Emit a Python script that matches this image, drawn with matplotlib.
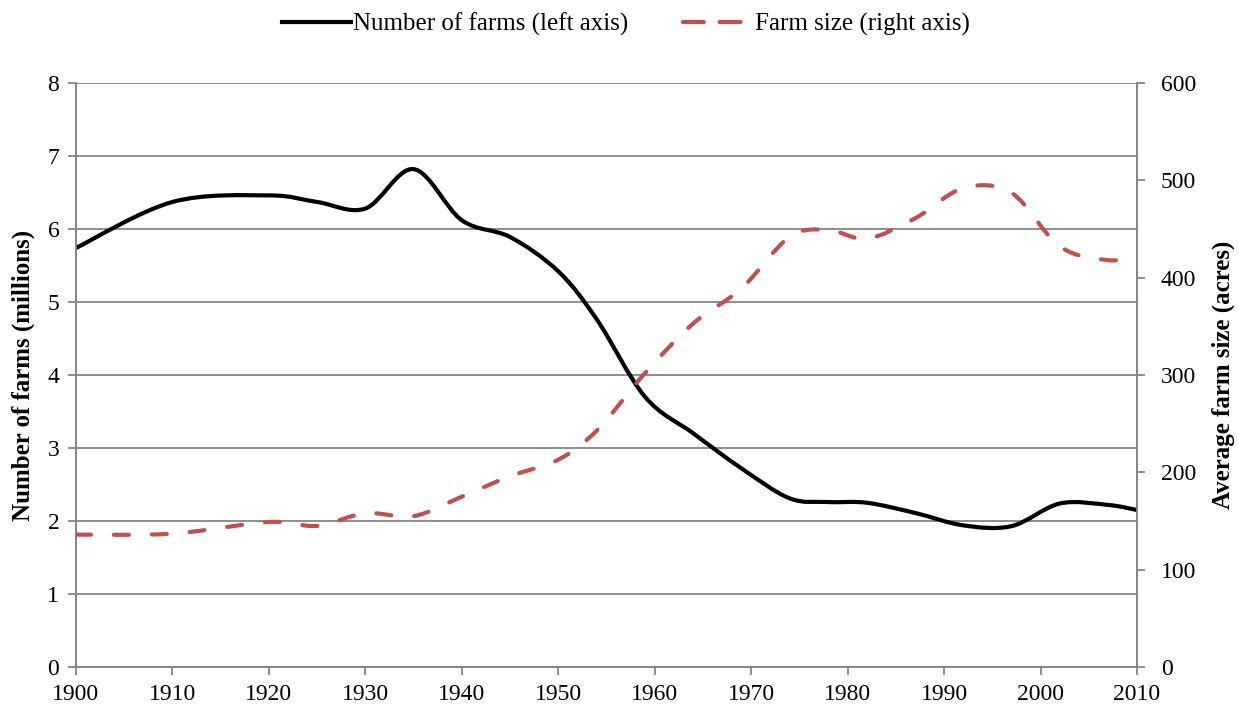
import numpy as np
import matplotlib.pyplot as plt
from matplotlib.path import Path
from matplotlib.patches import PathPatch
from matplotlib.lines import Line2D

plt.rcParams['font.family'] = ['Liberation Serif', 'DejaVu Serif']

years = [1900, 1910, 1920, 1925, 1930, 1935, 1940, 1945, 1950, 1954, 1959, 1964,
         1969, 1974, 1978, 1982, 1987, 1992, 1997, 2002, 2007, 2010]
farms = [5.74, 6.37, 6.46, 6.37, 6.28, 6.82, 6.12, 5.89, 5.42, 4.76, 3.70, 3.20,
         2.72, 2.31, 2.26, 2.25, 2.11, 1.94, 1.93, 2.24, 2.22, 2.15]
farm_size = [136, 137, 149, 145, 158, 155, 175, 196, 213, 243, 302, 353,
             389, 442, 449, 440, 461, 492, 487, 432, 418, 422]

grid_col = '#868686'
red = '#C0504D'


def smooth_path(x, y):
    # Excel-like smoothed line: cubic Bezier segments between the data points
    p = np.column_stack([x, y]).astype(float)
    n = len(p)
    verts = [p[0]]
    codes = [Path.MOVETO]
    for i in range(n - 1):
        p0 = p[i - 1] if i > 0 else p[i]
        p3 = p[i + 2] if i + 2 < n else p[i + 1]
        c1 = p[i] + (p[i + 1] - p0) / 6.0
        c2 = p[i + 1] - (p3 - p[i]) / 6.0
        verts += [c1, c2, p[i + 1]]
        codes += [Path.CURVE4] * 3
    return Path(verts, codes)


fig = plt.figure(figsize=(12.39, 7.08), dpi=100)
ax = fig.add_axes([0.0613, 0.0579, 0.8564, 0.8249])
ax2 = ax.twinx()

ax.add_patch(PathPatch(smooth_path(years, farms), fill=False, edgecolor='black',
                       linewidth=3.0, capstyle='butt', zorder=3))
ax2.add_patch(PathPatch(smooth_path(years, farm_size), fill=False, edgecolor=red,
                        linewidth=3.0, linestyle=(0, (3.6, 5.5)), capstyle='round',
                        zorder=3))

ax.set_xlim(1900, 2010)
ax.set_ylim(0, 8)
ax2.set_ylim(0, 600)
ax.set_xticks(range(1900, 2011, 10))
ax.set_yticks(range(0, 9))
ax2.set_yticks(range(0, 601, 100))

ax.yaxis.grid(True, color=grid_col, linewidth=1.3)
ax.set_axisbelow(True)

for a in (ax, ax2):
    for s in a.spines.values():
        s.set_color(grid_col)
        s.set_linewidth(1.3)
    a.spines['top'].set_visible(False)
    a.tick_params(colors=grid_col, length=6, width=1.3, labelcolor='black',
                  labelsize=17)
ax.tick_params(axis='x', pad=6)
ax.tick_params(axis='y', pad=6)
ax2.tick_params(axis='y', pad=11)

ax.set_ylabel('Number of farms (millions)', fontsize=18, fontweight='bold', labelpad=9)
ax2.set_ylabel('Average farm size (acres)', fontsize=18, fontweight='bold', labelpad=11)

handles = [Line2D([], [], color='black', linewidth=3.0),
           Line2D([], [], color=red, linewidth=3.0, linestyle=(0, (5.0, 3.8)),
                  dash_capstyle='round')]
fig.legend(handles, ['Number of farms (left axis)', 'Farm size (right axis)'],
           loc='center', bbox_to_anchor=(0.505, 0.966), ncol=2, frameon=False,
           fontsize=18, handlelength=2.75, handletextpad=0.1, columnspacing=2.2)

fig.savefig('out.png', dpi=100)
